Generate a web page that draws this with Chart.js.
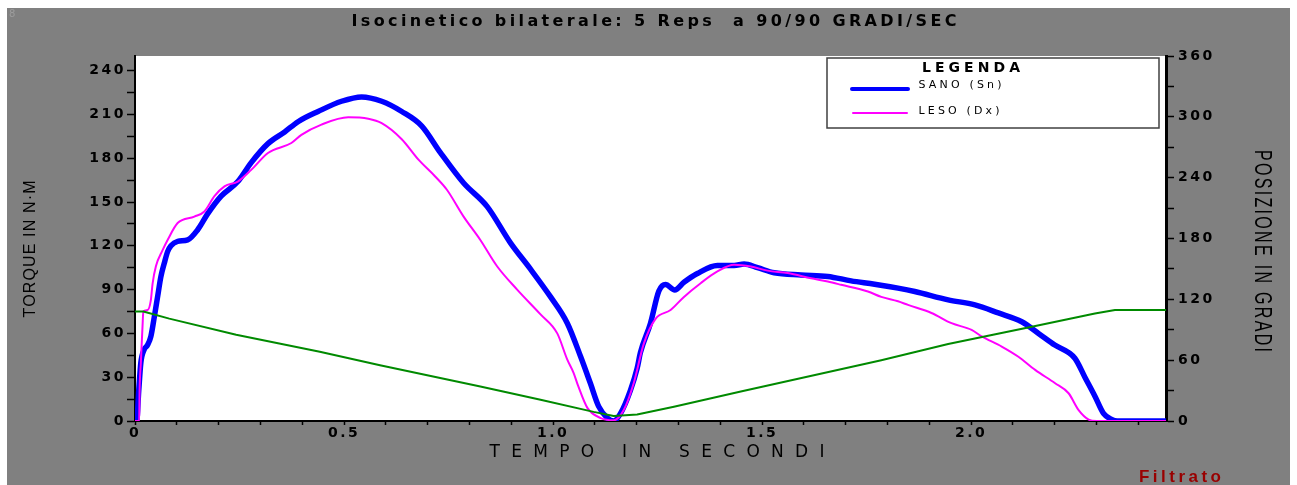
<!DOCTYPE html>
<html>
<head>
<meta charset="utf-8">
<script src="https://cdn.jsdelivr.net/npm/chart.js@4"></script>
<style>
  html, body { margin: 0; padding: 0; background: #ffffff; }
  #wrap { width: 1297px; height: 485px; position: relative; }
</style>
</head>
<body>
<div id="wrap"><canvas id="isoChart"></canvas></div>
<script>
// SANO (Sn) - torque in N-M over time in seconds
const sanoTime = [0.000, 0.004, 0.009, 0.014, 0.022, 0.030, 0.038, 0.046, 0.054, 0.062, 0.070, 0.078, 0.086, 0.102,
    0.126, 0.150, 0.174, 0.206, 0.246, 0.278, 0.318, 0.358, 0.390, 0.438, 0.494, 0.542, 0.590, 0.638, 0.686, 0.730,
    0.786, 0.842, 0.898, 0.946, 0.994, 1.034, 1.066, 1.089, 1.109, 1.130, 1.145, 1.161, 1.185, 1.201, 1.209, 1.233,
    1.253, 1.269, 1.291, 1.313, 1.345, 1.393, 1.433, 1.457, 1.489, 1.529, 1.593, 1.657, 1.713, 1.769, 1.825, 1.865,
    1.945, 2.009, 2.065, 2.121, 2.161, 2.200, 2.248, 2.272, 2.296, 2.317, 2.336, 2.350, 2.466];
const sanoTorque = [0, 0, 21, 40, 49, 52, 58, 71, 85, 99, 108, 116, 120, 123,
    124, 131, 142, 154, 164, 177, 190, 198, 205, 212, 219, 222, 219, 212, 202, 184,
    163, 147, 122, 104, 85, 67, 44, 26, 10, 2, 0, 5, 21, 36, 47, 67,
    89, 93.5, 89.8, 95, 101, 106.5, 106.5, 107.5, 105, 101.5, 100, 99, 96, 93.7, 91, 88.7,
    83, 79.5, 74, 68, 60, 52, 43, 30, 17, 5, 1, 0, 0];

// LESO (Dx)
const lesoTime = [0.000, 0.010, 0.011, 0.014, 0.018, 0.020, 0.030, 0.038, 0.042, 0.050, 0.066, 0.078, 0.102, 0.142,
    0.166, 0.190, 0.214, 0.246, 0.278, 0.318, 0.374, 0.398, 0.446, 0.510, 0.558, 0.590, 0.638, 0.678, 0.718, 0.746,
    0.786, 0.826, 0.866, 0.914, 0.970, 1.010, 1.034, 1.049, 1.060, 1.082, 1.114, 1.145, 1.169, 1.193, 1.217, 1.245,
    1.281, 1.313, 1.353, 1.393, 1.433, 1.473, 1.513, 1.561, 1.617, 1.657, 1.689, 1.753, 1.785, 1.825, 1.849, 1.905,
    1.953, 2.001, 2.025, 2.073, 2.113, 2.153, 2.200, 2.233, 2.257, 2.281, 2.300, 2.466];
const lesoTorque = [0, 0, 21, 40, 65, 75, 76, 83, 94, 106, 117, 124, 135.6, 140,
    143.5, 154, 160.7, 164, 172, 183.6, 190.4, 196, 203, 208, 207, 204, 193, 179, 167.5, 158.4,
    140, 124, 106, 90, 73, 60, 42, 33, 24, 9, 2, 0.5, 7.5, 26, 53, 70,
    76, 85, 94.4, 102.4, 107, 105.8, 103, 101.3, 97.8, 95.5, 93.3, 88.7, 85, 82, 79.5, 74,
    67, 62.4, 58, 51, 44, 35, 26, 19, 7.5, 1, 0, 0];

// position in degrees (right axis)
const posTime = [0.000, 0.020, 0.082, 0.242, 0.442, 0.586, 0.826, 0.970, 1.097, 1.145, 1.201, 1.289, 1.449,
    1.785, 1.945, 2.145, 2.296, 2.344, 2.466];
const posDegrees = [108, 108, 101, 85, 68.4, 55, 34, 21, 9, 5, 6.5, 14, 29,
    60, 76, 93, 106, 109.5, 109.5];

const timeMax = 2.466;
const torqueMax = 250;
const degreesMax = 360;

function toPoints(xs, ys) {
    return xs.map((x, i) => ({ x: x, y: ys[i] }));
}

// text stretched to a given length (spacing between letters)
function drawSpaced(ctx, text, cx, cy, width, font, color, angle, stretch) {
    ctx.save();
    ctx.translate(cx, cy);
    ctx.rotate(angle || 0);
    ctx.scale(1, stretch || 1);
    ctx.font = font;
    ctx.letterSpacing = '0px';
    const w0 = ctx.measureText(text).width;
    const gap = (width - w0) / (text.length - 1);
    ctx.letterSpacing = gap + 'px';
    ctx.fillStyle = color;
    ctx.textAlign = 'left';
    ctx.textBaseline = 'middle';
    ctx.fillText(text, -width / 2, 0);
    ctx.restore();
}

const framePlugin = {
    id: 'frame',
    beforeDraw(chart) {
        const ctx = chart.ctx;
        const area = chart.chartArea;
        ctx.save();
        ctx.fillStyle = '#ffffff';
        ctx.fillRect(0, 0, chart.width, chart.height);
        ctx.fillStyle = '#808080';
        ctx.fillRect(7, 8, 1283, chart.height - 8);
        ctx.fillStyle = '#ffffff';
        ctx.fillRect(area.left, area.top, area.right - area.left, area.bottom - area.top);
        ctx.restore();
        ctx.letterSpacing = '2.5px';
    },
    afterDraw(chart) {
        const ctx = chart.ctx;
        const area = chart.chartArea;
        ctx.letterSpacing = '0px';

        // small window number
        ctx.save();
        ctx.fillStyle = '#9c9c9c';
        ctx.font = '10px "DejaVu Sans"';
        ctx.textBaseline = 'middle';
        ctx.fillText('8', 9, 14);
        ctx.restore();

        drawSpaced(ctx, 'Isocinetico bilaterale: 5 Reps  a 90/90 GRADI/SEC', 654, 22, 605,
            'bold 16px "DejaVu Sans"', '#000000');
        drawSpaced(ctx, 'TORQUE IN N\u00B7M', 31, 249, 137, '16px "Liberation Sans"', '#000000', -Math.PI / 2, 1);
        drawSpaced(ctx, 'POSIZIONE IN GRADI', 1262, 251, 202, '16px "Liberation Sans"', '#000000', Math.PI / 2, 1.5);
        drawSpaced(ctx, 'TEMPO IN SECONDI', 657, 453, 335, '17px "DejaVu Sans"', '#000000');
        drawSpaced(ctx, 'Filtrato', 1180, 477, 82, 'bold 17px "Liberation Sans"', '#990000');

        // legend box
        const lx = area.right - 339, ly = area.top + 2, lw = 332, lh = 70;
        ctx.save();
        ctx.fillStyle = '#ffffff';
        ctx.fillRect(lx, ly, lw, lh);
        ctx.strokeStyle = '#404040';
        ctx.lineWidth = 1.5;
        ctx.strokeRect(lx, ly, lw, lh);
        ctx.lineCap = 'round';
        ctx.strokeStyle = '#0000ff';
        ctx.lineWidth = 4;
        ctx.beginPath(); ctx.moveTo(lx + 25, ly + 31); ctx.lineTo(lx + 81, ly + 31); ctx.stroke();
        ctx.strokeStyle = '#ff00ff';
        ctx.lineWidth = 2;
        ctx.beginPath(); ctx.moveTo(lx + 26, ly + 55); ctx.lineTo(lx + 80, ly + 55); ctx.stroke();
        ctx.restore();
        drawSpaced(ctx, 'LEGENDA', lx + 144, ly + 10, 98, 'bold 14px "DejaVu Sans"', '#000000');
        drawSpaced(ctx, 'SANO (Sn)', lx + 133, ly + 27.5, 83, '11px "DejaVu Sans"', '#000000');
        drawSpaced(ctx, 'LESO (Dx)', lx + 132, ly + 53, 81, '11px "DejaVu Sans"', '#000000');
    }
};

const tickFont = { family: '"DejaVu Sans"', size: 14, weight: 'bold' };

const ctx = document.getElementById('isoChart').getContext('2d');
const isoChart = new Chart(ctx, {
    type: 'line',
    data: {
        datasets: [
            {
                label: 'SANO (Sn)',
                data: toPoints(sanoTime, sanoTorque),
                borderColor: '#0000ff',
                borderWidth: 5.5,
                cubicInterpolationMode: 'monotone',
                yAxisID: 'y',
                order: 3
            },
            {
                label: 'LESO (Dx)',
                data: toPoints(lesoTime, lesoTorque),
                borderColor: '#ff00ff',
                borderWidth: 2,
                cubicInterpolationMode: 'monotone',
                yAxisID: 'y',
                order: 2
            },
            {
                label: 'Posizione',
                data: toPoints(posTime, posDegrees),
                borderColor: '#008a00',
                borderWidth: 2,
                yAxisID: 'y2',
                order: 1
            }
        ]
    },
    options: {
        responsive: true,
        maintainAspectRatio: false,
        animation: false,
        layout: { padding: { top: 56, left: 0, right: 0, bottom: 0 } },
        elements: {
            point: { radius: 0 },
            line: { tension: 0, fill: false, borderJoinStyle: 'round', borderCapStyle: 'round' }
        },
        plugins: {
            legend: { display: false },
            tooltip: { enabled: false },
            title: { display: false }
        },
        scales: {
            x: {
                type: 'linear',
                min: 0,
                max: timeMax,
                afterFit(scale) { scale.height = 64; },
                ticks: {
                    stepSize: 0.1,
                    autoSkip: false,
                    includeBounds: false,
                    maxRotation: 0,
                    padding: 0,
                    color: '#000000',
                    font: tickFont,
                    callback: function(value) {
                        const r = Math.round(value * 10);
                        if (r % 5 !== 0) return '';
                        return r === 0 ? '0' : (r / 10).toFixed(1);
                    }
                },
                grid: { drawOnChartArea: false, drawTicks: true, tickLength: 4, tickColor: '#000000', tickWidth: 1.5 },
                border: { display: true, color: '#000000', width: 2 }
            },
            y: {
                position: 'left',
                min: 0,
                max: torqueMax,
                afterFit(scale) { scale.width = 135; },
                ticks: {
                    stepSize: 15,
                    autoSkip: false,
                    includeBounds: false,
                    padding: 1,
                    color: '#000000',
                    font: tickFont,
                    callback: function(value) {
                        return value % 30 === 0 ? String(value) : '';
                    }
                },
                grid: { drawOnChartArea: false, drawTicks: true, tickLength: 8, tickColor: '#000000', tickWidth: 1.5 },
                border: { display: true, color: '#000000', width: 2 }
            },
            y2: {
                position: 'right',
                min: 0,
                max: degreesMax,
                afterFit(scale) { scale.width = 131; },
                ticks: {
                    stepSize: 30,
                    autoSkip: false,
                    padding: 4,
                    color: '#000000',
                    font: tickFont,
                    callback: function(value) {
                        return value % 60 === 0 ? String(value) : '';
                    }
                },
                grid: { drawOnChartArea: false, drawTicks: true, tickLength: 8, tickColor: '#000000', tickWidth: 1.5 },
                border: { display: true, color: '#000000', width: 3 }
            }
        }
    },
    plugins: [framePlugin]
});
</script>
</body>
</html>
